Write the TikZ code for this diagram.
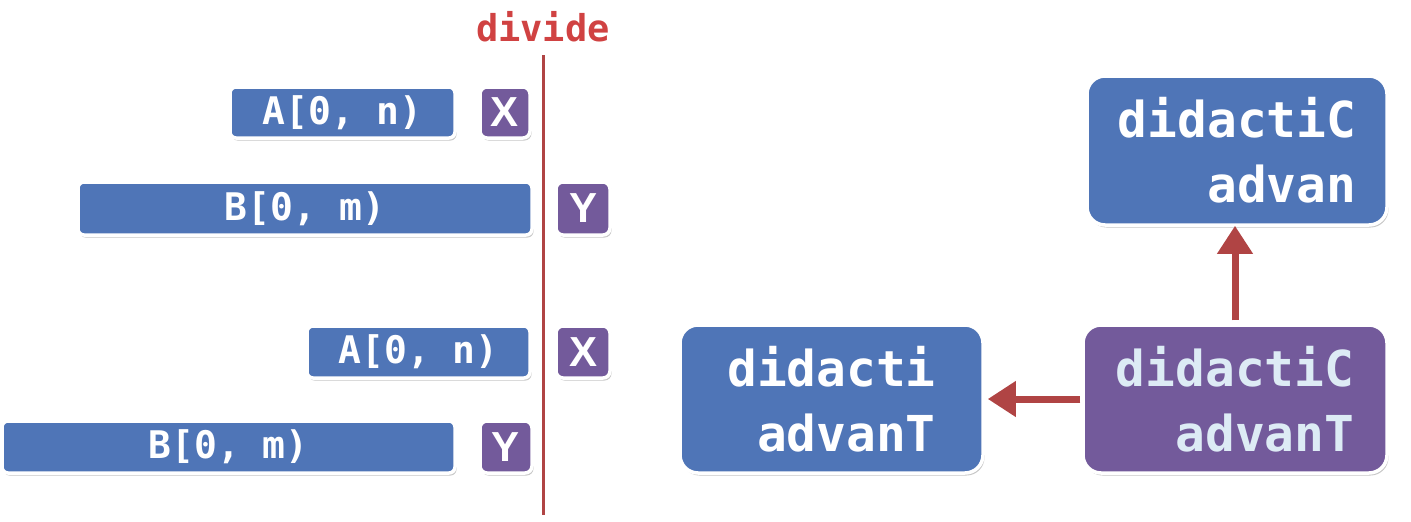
\documentclass[tikz,border=0pt]{standalone}
\usepackage{fontspec}
\newfontfamily\monob{DejaVu Sans Mono}
\newfontfamily\sansb{Liberation Sans}
\usetikzlibrary{arrows.meta,shadows}
\definecolor{boxblue}{HTML}{4F75B7}
\definecolor{boxpurple}{HTML}{735A9B}
\definecolor{lineRed}{HTML}{B04444}
\definecolor{divRed}{HTML}{D04242}
\definecolor{lightTxt}{HTML}{DDEBF5}
\tikzset{
  basebox/.style={draw=white, line width=3.5pt, inner sep=0pt,
    drop shadow={shadow xshift=1.5pt, shadow yshift=-2.5pt, opacity=0.45}},
  rangebox/.style={basebox, fill=boxblue, rounded corners=6pt, text=white,
    font=\monob\bfseries\fontsize{38}{38}\selectfont},
  letterbox/.style={basebox, fill=boxpurple, rounded corners=7pt, text=white,
    font=\sansb\bfseries\fontsize{42}{42}\selectfont},
  bigbox/.style={basebox, rounded corners=18pt, align=right,
    font=\monob\bfseries\fontsize{49.5}{65}\selectfont},
  conn/.style={lineRed, line width=7pt, -{Triangle[length=28pt,width=34pt]}},
}
\begin{document}
\begin{tikzpicture}[x=1pt,y=-1pt]
\useasboundingbox (0,0) rectangle (1411,522);

\node[text=divRed, font=\monob\bfseries\fontsize{37}{37}\selectfont] (div) at (543,27) {divide};
\coordinate (ltop) at (543,55);
\coordinate (lbot) at (543,515);
\draw[lineRed, line width=3pt] (ltop) -- (lbot);

\node[rangebox, minimum width=225pt, minimum height=51pt] (a1) at (342.5,112.5) {A[0, n)};
\node[letterbox, minimum width=50pt, minimum height=51pt] (x1) at (505,112.5) {X};

\node[rangebox, minimum width=454pt, minimum height=53pt] (b1) at (305,208.5) {B[0, m)};
\node[letterbox, minimum width=54pt, minimum height=53pt] (y1) at (583,208.5) {Y};

\node[rangebox, minimum width=223pt, minimum height=52pt] (a2) at (418.5,352) {A[0, n)};
\node[letterbox, minimum width=54pt, minimum height=52pt] (x2) at (583,352) {X};

\node[rangebox, minimum width=453pt, minimum height=52pt] (b2) at (228.5,447) {B[0, m)};
\node[letterbox, minimum width=52pt, minimum height=52pt] (y2) at (506,447) {Y};

\node[bigbox, fill=boxblue, text=white, minimum width=300pt, minimum height=149pt] (top) at (1237,150.5) {didactiC\\advan};
\node[bigbox, fill=boxblue, text=white, minimum width=303pt, minimum height=148pt] (left) at (831.5,399) {didacti\\advanT};
\node[bigbox, fill=boxpurple, text=lightTxt, minimum width=304pt, minimum height=148pt] (src) at (1235,399) {didactiC\\advanT};

\draw[conn, shorten >=2pt] ([yshift=3pt]src.north) -- ([yshift=3pt]src.north |- top.south);
\draw[conn, shorten >=2pt] ([xshift=-1pt]src.west) -- ([xshift=1pt]left.east);
\end{tikzpicture}
\end{document}
